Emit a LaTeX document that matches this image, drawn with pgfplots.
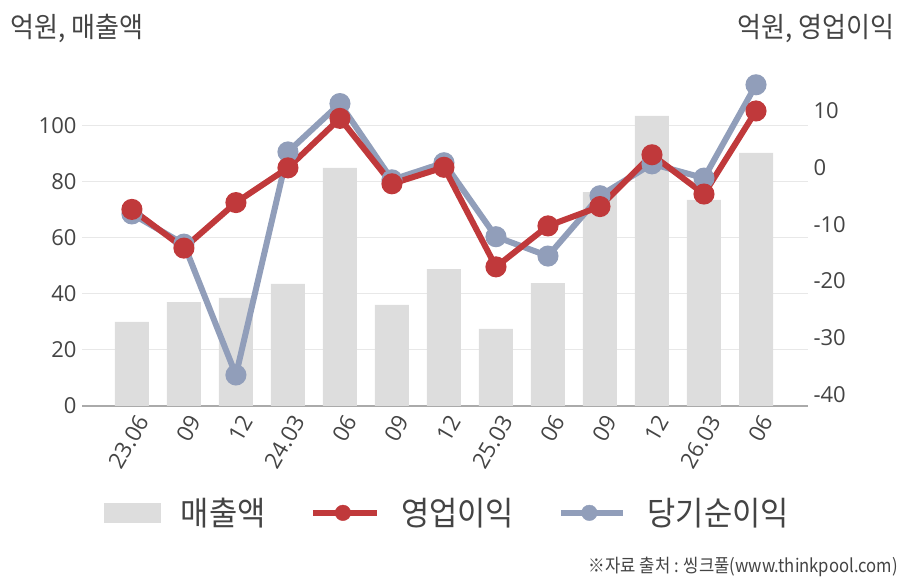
\documentclass[border=0pt]{standalone}
\usepackage{fontspec}
\setmainfont{Open Sans}
\newfontfamily\kr[FakeStretch=0.93]{Noto Sans CJK KR}
\newfontfamily\krs[FakeStretch=0.9]{Noto Sans CJK KR}
\usepackage{pgfplots}
\usepackage{pgfplotstable}
\pgfplotsset{compat=1.18}
\definecolor{barc}{HTML}{DDDDDD}
\definecolor{opc}{HTML}{C0393B}
\definecolor{npc}{HTML}{919EBA}
\definecolor{txt}{HTML}{444444}
\definecolor{gridc}{HTML}{E8E8E8}
\definecolor{axc}{HTML}{AAAAAA}

\pgfplotstableread{
x sales op np
0 30.0 -7.4 -8.2
1 37.1 -14.2 -13.5
2 38.6 -6.2 -36.5
3 43.6 -0.1 2.7
4 85.0 8.6 11.2
5 36.1 -2.9 -2.2
6 48.9 0.0 0.8
7 27.5 -17.5 -12.2
8 43.9 -10.3 -15.6
9 76.4 -6.9 -5.0
10 103.6 2.2 0.6
11 73.6 -4.7 -1.9
12 90.4 9.9 14.5
}\data

\pgfplotsset{
  common/.style={
    at={(82pt,174pt)}, anchor=south west,
    scale only axis, width=726pt, height=336pt,
    xmin=-0.96, xmax=13.0,
    tick style={draw=none}, major tick length=0pt,
    /pgf/number format/assume math mode=true,
    yticklabel style={font=\fontsize{22}{22}\selectfont, text=txt},
    clip=false,
  }
}

\begin{document}
\begin{tikzpicture}[x=1pt,y=1pt]
\begin{axis}[common,
  ymin=0, ymax=120,
  axis x line*=bottom, axis y line*=left,
  x axis line style={-, draw=axc, line width=1.3pt},
  y axis line style={draw=none},
  ytick={0,20,...,100}, ymajorgrids, grid style={gridc, line width=1pt},
  xtick={0,...,12},
  xticklabels={23.06,09,12,24.03,06,09,12,25.03,06,09,12,26.03,06},
  xticklabel style={xshift=13pt, yshift=-8pt, rotate=60, anchor=east, font=\fontsize{22.5}{22.5}\selectfont, text=txt},
  yticklabel style={xshift=-2pt},
]
\addplot[ybar, bar width=34pt, fill=barc, draw=none] table[x=x,y=sales]{\data};
\end{axis}
\begin{axis}[common,
  ymin=-41.95, ymax=17.1,
  axis x line=none, axis y line*=right,
  y axis line style={draw=none},
  ytick={-40,-30,...,10},
  yticklabel style={xshift=2pt},
  legend columns=3,
  legend style={at={(0.503,-0.318)}, anchor=center, draw=none, fill=none,
    font=\kr\fontsize{33}{33}\selectfont, text=txt,
    /tikz/every even column/.append style={column sep=42pt},
    /tikz/every odd column/.append style={column sep=19pt}},
]
\addlegendimage{legend image code/.code={\fill[barc] (0pt,-9.5pt) rectangle (56pt,9.5pt);}}
\addlegendentry{매출액}
\addlegendimage{legend image code/.code={\draw[opc, line width=6.5pt] (0pt,0pt) -- (64pt,0pt); \fill[opc] (30pt,0pt) circle (7.8pt);}}
\addlegendentry{영업이익}
\addlegendimage{legend image code/.code={\draw[npc, line width=6.5pt] (0pt,0pt) -- (62pt,0pt); \fill[npc] (28pt,0pt) circle (7.8pt);}}
\addlegendentry{당기순이익}
\addplot[forget plot, npc, line width=6pt, mark=*, mark size=7.5pt, mark options={fill=npc, draw=none}] table[x=x,y=np]{\data};
\addplot[forget plot, opc, line width=6pt, mark=*, mark size=7.5pt, mark options={fill=opc, draw=none}] table[x=x,y=op]{\data};
\end{axis}
\node[anchor=base west, font=\kr\fontsize{28}{28}\selectfont, text=txt, inner sep=0pt] at (10pt,580pt-38pt) {억원, 매출액};
\node[anchor=base east, font=\kr\fontsize{28}{28}\selectfont, text=txt, inner sep=0pt] at (895pt,580pt-38pt) {억원, 영업이익};
\node[anchor=base east, font=\krs\fontsize{18.5}{18.5}\selectfont, text=txt, inner sep=0pt] at (898pt,580pt-573pt) {※자료 출처 : 씽크풀(www.thinkpool.com)};
\pgfresetboundingbox
\useasboundingbox (0pt,0pt) rectangle (908pt,580pt);
\end{tikzpicture}
\end{document}
